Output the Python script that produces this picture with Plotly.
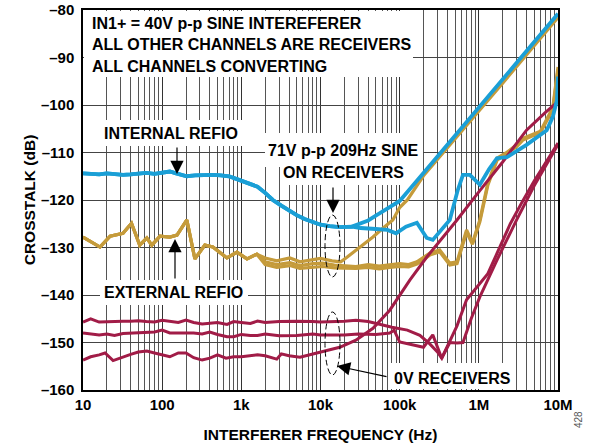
import plotly.graph_objects as go

# ---------------- data ----------------
# Blue (internal REFIO) shared low-frequency part
blue_f_low = [10, 13, 16, 20, 25, 32, 40, 50, 63, 80, 100, 125, 150, 205, 260, 330, 440, 550, 700, 880,
              1180, 1600, 2000, 2500, 3200, 4000, 5000, 6300, 8000, 10000, 13000, 17500, 25000]
blue_v_low = [-114.4, -114.5, -114.6, -114.4, -114.5, -114.7, -114.6, -114.5, -114.3, -114.5, -114.3, -114.0,
              -114.4, -115.0, -114.8, -114.7, -114.7, -114.8, -115.0, -115.6, -116.4, -117.2, -118.5, -120.0,
              -121.2, -122.3, -123.2, -124.0, -124.7, -125.2, -125.5, -125.7, -125.6]
blue_up_f = [32000, 40000, 50000, 63000, 80000, 100000, 200000, 500000, 1e6, 2e6, 5e6, 1e7]
blue_up_v = [-125.0, -124.3, -123.3, -122.3, -121.2, -120.2, -114.3, -106.5, -100.6, -94.7, -86.9, -80.8]
blue_lo_f = [32000, 50000, 70000, 90000, 120000, 165000, 220000, 262000, 330000, 430000, 540000, 630000,
             770000, 1.03e6, 1.35e6, 1.69e6, 2.26e6, 4.0e6, 7.2e6, 8.6e6, 9.7e6, 1e7]
blue_lo_v = [-125.9, -126.1, -126.3, -127.0, -125.6, -124.8, -128.0, -128.4, -126.5, -124.2, -118.0, -114.7,
             -114.7, -116.8, -113.5, -111.2, -111.0, -108.4, -105.3, -102.5, -99.0, -94.0]

# Gold (external REFIO, 71V on receivers) shared low-frequency part
gold_f_low = [10, 16.4, 22, 32, 41, 52, 64, 74, 94, 125, 154, 205, 259, 346, 437, 657, 880, 1180, 1570]
gold_v_low = [-127.8, -129.9, -127.6, -127.0, -124.9, -129.5, -128.0, -129.5, -127.6, -127.8, -127.4, -124.2,
              -132.4, -129.5, -129.9, -132.2, -131.0, -132.4, -131.4]
gold_a_f = [2000, 2800, 4100, 5500, 8000, 10000, 14000, 18000, 21000, 28000, 36000, 46000, 63000, 82000,
            100000, 125000, 200000, 500000, 1e6, 2e6, 5e6, 1e7]
gold_a_v = [-132.2, -132.8, -132.2, -133.0, -132.6, -132.3, -132.8, -133.0, -132.2, -130.6, -129.2, -127.8,
            -125.8, -124.2, -121.6, -120.0, -114.9, -107.2, -101.3, -95.4, -87.5, -81.6]
gold_b_f = [2000, 2800, 4100, 5500, 8000, 10600, 15000, 28000, 40000, 55000, 75000, 100000, 130000, 165000,
            240000, 320000, 430000, 530000, 700000, 830000, 1.03e6, 1.3e6, 1.7e6, 2.2e6, 3.0e6, 3.6e6, 6e6,
            8.6e6, 1e7]
gold_b_v = [-133.0, -133.6, -133.2, -133.8, -133.4, -133.3, -133.7, -134.0, -133.6, -133.9, -133.7, -133.4,
            -133.6, -133.0, -131.2, -130.5, -133.3, -133.0, -126.3, -129.0, -124.2, -116.4, -111.2, -110.1,
            -108.4, -107.0, -105.5, -100.5, -92.0]
gold_c_v = [-133.6, -134.2, -133.8, -134.4, -134.1, -134.0, -134.3, -134.4, -134.2, -134.5, -134.2, -134.0,
            -134.1, -133.5, -131.6, -130.9, -133.7, -133.4, -126.8, -129.3, -124.6, -116.9, -111.6, -110.4,
            -108.8, -107.4, -105.8, -101.0, -92.5]

# Maroon (0V receivers)
m1_f = [10, 12.5, 16, 20, 25, 32, 40, 50, 63, 80, 100, 130, 160, 200, 250, 320, 400, 500, 660, 800, 1000,
        1300, 1600, 2000, 3000, 5000, 8000, 10000, 20000, 28000, 40000, 60000, 80000, 125000, 180000,
        240000, 300000, 340000, 430000, 530000, 700000, 1e6, 1.3e6, 1.7e6, 2.5e6, 3.5e6, 5e6, 1e7]
m1_v = [-145.7, -145.0, -145.7, -145.6, -145.6, -145.5, -145.5, -145.4, -145.6, -145.7, -145.3, -145.5,
        -145.8, -145.3, -145.8, -146.1, -146.0, -145.8, -146.2, -145.6, -145.8, -146.0, -145.5, -145.8,
        -145.6, -145.5, -145.6, -145.7, -145.5, -145.3, -145.6, -146.3, -146.8, -147.4, -148.5, -150.3,
        -152.0, -153.3, -149.5, -146.5, -141.0, -137.8, -135.5, -131.2, -125.0, -120.5, -116.0, -108.0]
m2_f = [10, 13, 16, 20, 25, 32, 40, 50, 64, 80, 100, 125, 160, 200, 250, 320, 400, 500, 660, 800, 1000,
        1300, 1600, 2000, 3000, 5000, 8000, 10000, 20000, 30000, 50000, 75000, 85000, 100000, 150000,
        200000, 262000, 340000, 430000, 530000, 630000, 800000, 1.03e6, 1.7e6, 3e6, 5e6, 1e7]
m2_v = [-148.0, -148.2, -148.4, -148.2, -148.5, -148.1, -148.0, -148.0, -147.8, -147.8, -147.4, -148.0,
        -148.0, -148.0, -148.0, -148.2, -147.8, -148.3, -148.8, -148.8, -148.3, -148.5, -148.5, -148.2,
        -148.6, -148.5, -148.2, -148.4, -148.4, -148.2, -148.3, -148.0, -147.4, -149.9, -150.5, -151.0,
        -148.4, -153.3, -150.0, -150.1, -150.0, -145.0, -140.4, -132.6, -124.2, -117.0, -108.3]
m3_f = [10, 12.5, 16, 19, 24, 32, 40, 50, 64, 80, 100, 125, 160, 200, 250, 320, 400, 500, 640, 800, 1000,
        1300, 1600, 2000, 2800, 3200, 4000, 5500, 10000, 17500, 28000, 46000, 75000, 100000, 135000,
        220000, 530000, 1e6, 2e6, 4e6, 7e6, 1e7]
m3_v = [-153.7, -153.0, -152.6, -152.2, -153.8, -153.0, -152.5, -152.0, -151.8, -152.2, -152.6, -153.0,
        -152.2, -152.2, -153.2, -153.7, -153.3, -152.6, -153.3, -153.0, -153.0, -152.8, -152.6, -152.8,
        -153.5, -152.4, -152.8, -153.1, -152.0, -151.0, -149.5, -147.0, -143.2, -140.0, -136.8, -132.0,
        -124.2, -118.3, -112.0, -105.3, -101.5, -99.3]

x_tick_vals = [10, 100, 1000, 10000, 100000, 1000000, 10000000]
x_tick_text = ["10", "100", "1k", "10k", "100k", "1M", "10M"]
y_tick_vals = [-160, -150, -140, -130, -120, -110, -100, -90, -80]
y_tick_text = ["–160", "–150", "–140", "–130", "–120", "–110", "–100", "–90", "–80"]

BLUE = "#1a9fd6"
GOLD = "#c59b3b"
MAROON = "#a11c47"
FONT = "Liberation Sans, Arial, sans-serif"

fig = go.Figure()

def add(fx, fy, color, width):
    fig.add_trace(go.Scatter(x=fx, y=fy, mode="lines", line=dict(color=color, width=width),
                             showlegend=False, hoverinfo="skip"))

add(gold_f_low + gold_b_f, gold_v_low + gold_c_v, GOLD, 3.2)
add(gold_f_low + gold_b_f, gold_v_low + gold_b_v, GOLD, 3.2)
add(gold_f_low + gold_a_f, gold_v_low + gold_a_v, GOLD, 3.2)
add(m1_f, m1_v, MAROON, 3)
add(m2_f, m2_v, MAROON, 3)
add(m3_f, m3_v, MAROON, 3)
add(blue_f_low + blue_lo_f, blue_v_low + blue_lo_v, BLUE, 3.8)
add(blue_f_low + blue_up_f, blue_v_low + blue_up_v, BLUE, 3.8)

# ---------------- layout helpers (pixel -> paper) ----------------
W, H = 594, 446
L, R, T, B = 83, 558, 10, 390
def px(x):
    return (x - L) / (R - L)
def py(y):
    return (B - y) / (B - T)

shapes = []
def white_box(x0, y0, x1, y1):
    shapes.append(dict(type="rect", xref="paper", yref="paper", x0=px(x0), x1=px(x1), y0=py(y1), y1=py(y0),
                       fillcolor="white", line=dict(width=0), layer="above"))

white_box(L + 1, T + 1, 413, 77)
white_box(100, 120, 243, 146)
white_box(265, 133, 423, 167)
white_box(283, 160, 407, 185)
white_box(100, 280, 248, 305)
white_box(388, 363, 512, B - 1)

for (x0, y0, x1, y1) in [(325, 215, 340, 277), (325, 312, 340, 375)]:
    shapes.append(dict(type="circle", xref="paper", yref="paper", x0=px(x0), x1=px(x1), y0=py(y1), y1=py(y0),
                       line=dict(color="black", width=1, dash="6px,3px"), layer="above"))

annotations = []
def text(x, y, s, xanchor="center", size=16):
    annotations.append(dict(x=px(x), y=py(y), xref="paper", yref="paper", text="<b>" + s + "</b>",
                            showarrow=False, xanchor=xanchor, yanchor="middle",
                            font=dict(family=FONT, size=size, color="black")))

text(90, 23, "IN1+ = 40V p-p SINE INTEREFERER", "left")
text(90, 45, "ALL OTHER CHANNELS ARE RECEIVERS", "left")
text(90, 66, "ALL CHANNELS CONVERTING", "left")
text(171, 133, "INTERNAL REFIO")
text(343, 150, "71V p-p 209Hz SINE")
text(343, 172, "ON RECEIVERS")
text(173, 292, "EXTERNAL REFIO")
text(452, 378, "0V RECEIVERS")

def arrow(tx, ty, sx, sy):
    annotations.append(dict(x=px(tx), y=py(ty), xref="paper", yref="paper", text="",
                            showarrow=True, ax=sx - tx, ay=sy - ty, axref="pixel", ayref="pixel",
                            arrowhead=2, arrowsize=2.2, arrowwidth=1.2, arrowcolor="black", standoff=0))

arrow(177, 174, 177, 146)
arrow(175, 239, 175, 280)
arrow(333, 213, 333, 186)
arrow(337, 366, 388, 377)

annotations.append(dict(x=px(586), y=py(430), xref="paper", yref="paper", text="428", showarrow=False,
                        textangle=-90, font=dict(family=FONT, size=10, color="#555555")))

fig.update_layout(
    width=W, height=H,
    margin=dict(l=L, r=W - R, t=T, b=H - B, autoexpand=False),
    paper_bgcolor="white", plot_bgcolor="white",
    font=dict(family=FONT, size=15, color="black"),
    shapes=shapes, annotations=annotations,
)
fig.update_xaxes(
    type="log", range=[1, 7], tickvals=x_tick_vals, ticktext=x_tick_text, automargin=False,
    showgrid=True, gridcolor="#333333", gridwidth=1,
    minor=dict(tickvals=[m * 10 ** d for d in range(1, 7) for m in range(2, 10)],
               showgrid=True, gridcolor="#555555", gridwidth=1, ticks=""),
    showline=True, mirror=True, linecolor="black", linewidth=1.5, ticks="",
    tickfont=dict(family=FONT, size=15, weight="bold"),
    title=dict(text="<b>INTERFERER FREQUENCY (Hz)</b>", font=dict(family=FONT, size=15.5), standoff=17),
    zeroline=False,
)
fig.update_yaxes(
    range=[-160, -80], tickvals=y_tick_vals, ticktext=y_tick_text, automargin=False,
    showgrid=True, gridcolor="#444444", gridwidth=1, ticklabelstandoff=4,
    showline=True, mirror=True, linecolor="black", linewidth=1.5, ticks="",
    tickfont=dict(family=FONT, size=15, weight="bold"),
    title=dict(text="<b>CROSSTALK (dB)</b>", font=dict(family=FONT, size=15.5), standoff=1),
    zeroline=False,
)

fig.write_html("out.html", config={"displayModeBar": False},
               post_script="document.body.style.margin='0px';")
